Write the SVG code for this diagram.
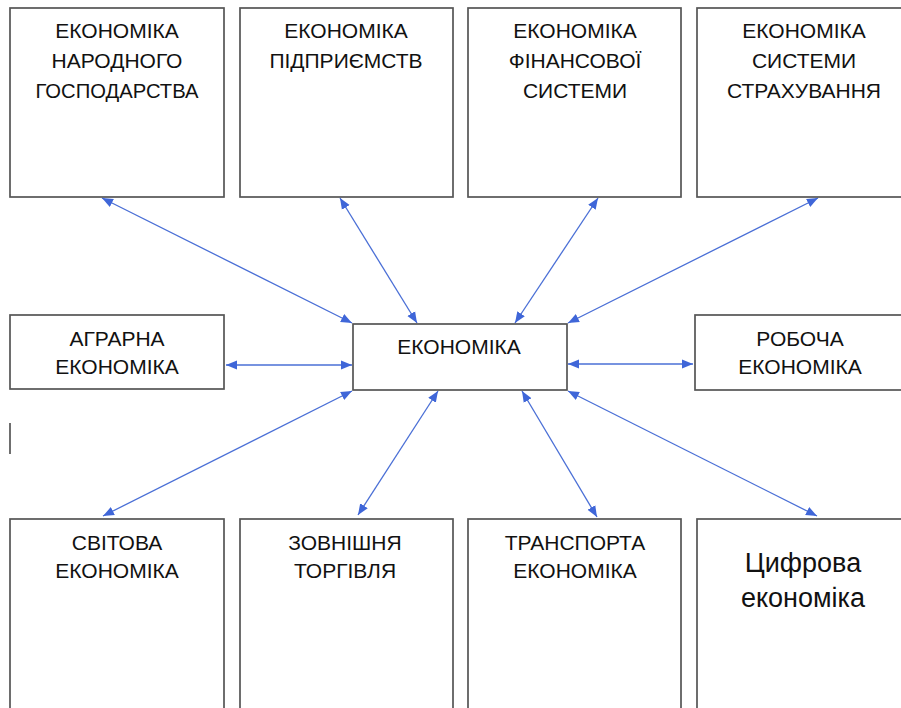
<svg xmlns="http://www.w3.org/2000/svg" width="901" height="708" viewBox="0 0 901 708">
<style>
.box{fill:#fff;stroke:#555;stroke-width:1.7}
.t{font-family:"Liberation Sans",Arial,sans-serif;font-size:21px;fill:#111;text-anchor:middle}
.t2{font-family:"Liberation Sans",Arial,sans-serif;font-size:27px;fill:#111;text-anchor:middle}
.c{stroke:#4a6fd6;stroke-width:1.3;fill:none;marker-start:url(#ah);marker-end:url(#ah)}
</style>
<defs>
<marker id="ah" markerUnits="userSpaceOnUse" markerWidth="12" markerHeight="10" refX="11" refY="5" orient="auto-start-reverse" viewBox="0 0 12 10">
<path d="M0,0.5 L11,5 L0,9.5 z" fill="#3f66d8"/>
</marker>
</defs>
<rect width="901" height="708" fill="#fff"/>
<g id="connectors">
<line class="c" x1="102" y1="198" x2="352" y2="323"/>
<line class="c" x1="340" y1="198" x2="417" y2="323"/>
<line class="c" x1="598" y1="198" x2="515" y2="323"/>
<line class="c" x1="818" y1="198" x2="568" y2="323"/>
<line class="c" x1="226" y1="365" x2="352" y2="365"/>
<line class="c" x1="568" y1="364" x2="693" y2="364"/>
<line class="c" x1="352" y1="391" x2="103" y2="516"/>
<line class="c" x1="438" y1="391" x2="358" y2="515"/>
<line class="c" x1="522" y1="391" x2="597" y2="517"/>
<line class="c" x1="568" y1="391" x2="817" y2="516"/>
</g>
<g id="n1"><rect class="box" x="10" y="8" width="214" height="189"/>
<text class="t" x="117" y="38">ЕКОНОМІКА</text><text class="t" x="117" y="68">НАРОДНОГО</text><text class="t" x="117" y="98" textLength="163" lengthAdjust="spacingAndGlyphs">ГОСПОДАРСТВА</text></g>
<g id="n2"><rect class="box" x="240" y="8" width="213" height="189"/>
<text class="t" x="346" y="38">ЕКОНОМІКА</text><text class="t" x="346" y="68">ПІДПРИЄМСТВ</text></g>
<g id="n3"><rect class="box" x="468" y="8" width="213" height="189"/>
<text class="t" x="575" y="38">ЕКОНОМІКА</text><text class="t" x="575" y="68">ФІНАНСОВОЇ</text><text class="t" x="575" y="98">СИСТЕМИ</text></g>
<g id="n4"><rect class="box" x="697" y="8" width="214" height="189"/>
<text class="t" x="804" y="38">ЕКОНОМІКА</text><text class="t" x="804" y="68">СИСТЕМИ</text><text class="t" x="804" y="98">СТРАХУВАННЯ</text></g>
<g id="n5"><rect class="box" x="10" y="315" width="214" height="74"/>
<text class="t" x="117" y="346">АГРАРНА</text><text class="t" x="117" y="374">ЕКОНОМІКА</text></g>
<g id="center"><rect class="box" x="353" y="324" width="214" height="66"/>
<text class="t" x="459" y="354">ЕКОНОМІКА</text></g>
<g id="n6"><rect class="box" x="695" y="315" width="216" height="75"/>
<text class="t" x="800" y="346">РОБОЧА</text><text class="t" x="800" y="374">ЕКОНОМІКА</text></g>
<g id="n7"><rect class="box" x="10" y="519" width="214" height="200"/>
<text class="t" x="117" y="550">СВІТОВА</text><text class="t" x="117" y="578">ЕКОНОМІКА</text></g>
<g id="n8"><rect class="box" x="240" y="519" width="213" height="200"/>
<text class="t" x="345" y="550">ЗОВНІШНЯ</text><text class="t" x="345" y="578">ТОРГІВЛЯ</text></g>
<g id="n9"><rect class="box" x="468" y="519" width="213" height="200"/>
<text class="t" x="575" y="550">ТРАНСПОРТА</text><text class="t" x="575" y="578">ЕКОНОМІКА</text></g>
<g id="n10"><rect class="box" x="697" y="519" width="214" height="200"/>
<text class="t2" x="803" y="572">Цифрова</text><text class="t2" x="803" y="607">економіка</text></g>
<line x1="10" y1="423" x2="10" y2="454" stroke="#555" stroke-width="1.7"/>
</svg>
